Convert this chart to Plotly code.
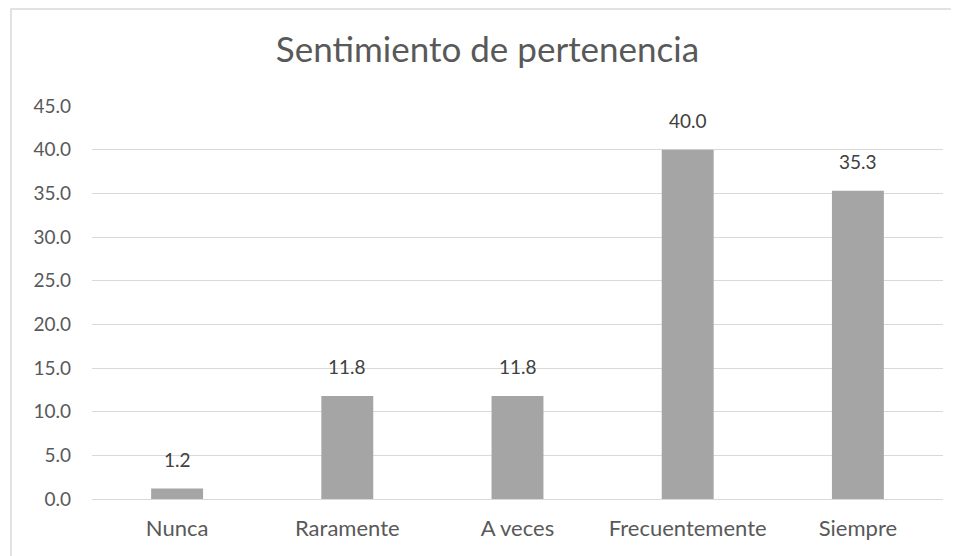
import plotly.graph_objects as go

categories = ["Nunca", "Raramente", "A veces", "Frecuentemente", "Siempre"]
values = [1.2, 11.8, 11.8, 40.0, 35.3]
tick_vals = [0, 5, 10, 15, 20, 25, 30, 35, 40, 45]

FONT = "Lato"
TEXT = "#595959"
GRID = "#D9D9D9"

# page body has an 8px margin, so the figure is placed 8px in
fig = go.Figure(
    data=[
        go.Bar(
            x=categories,
            y=values,
            marker=dict(color="#A5A5A5", line=dict(width=0)),
            hoverinfo="x+y",
        )
    ]
)

# value labels above the bars
for cat, val in zip(categories, values):
    fig.add_annotation(
        x=cat,
        y=val,
        text=f"{val:.1f}",
        showarrow=False,
        yshift=29,
        font=dict(family=FONT, size=19, color="#404040"),
    )

fig.update_layout(
    width=959,
    height=556,
    paper_bgcolor="white",
    plot_bgcolor="white",
    showlegend=False,
    bargap=0.695,
    margin=dict(l=84, r=24, t=98, b=65),
    title=dict(
        text="Sentimiento de pertenencia",
        x=0.5,
        xanchor="center",
        y=1 - 42 / 556,
        yanchor="middle",
        font=dict(family=FONT, size=35, color=TEXT),
    ),
    font=dict(family=FONT, size=19, color=TEXT),
    shapes=[
        dict(
            type="rect",
            xref="paper",
            yref="paper",
            x0=(3 - 84) / 851,
            x1=1.2,
            y0=-0.5,
            y1=1 + 97 / 393,
            line=dict(color=GRID, width=1.5),
            layer="below",
        )
    ],
)

fig.update_xaxes(
    showgrid=False,
    showline=False,
    ticks="",
    ticklabelstandoff=14,
    tickfont=dict(family=FONT, size=22, color=TEXT),
)
fig.update_yaxes(
    range=[0, 45],
    tickvals=tick_vals,
    tickformat=".1f",
    showgrid=True,
    gridcolor=GRID,
    gridwidth=1,
    zeroline=True,
    zerolinecolor=GRID,
    zerolinewidth=1,
    showline=False,
    ticks="",
    ticklabelstandoff=20,
    tickfont=dict(family=FONT, size=19, color=TEXT),
)

fig.write_html("out.html")
